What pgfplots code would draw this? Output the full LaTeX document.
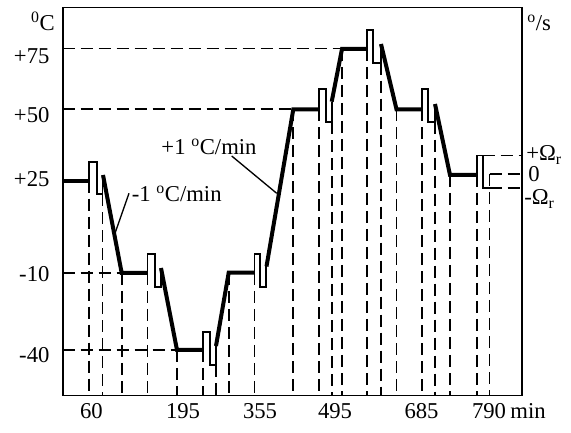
\documentclass[border=0pt]{standalone}
\usepackage{pgfplots}
\pgfplotsset{compat=1.18}
\usepackage{fontspec}
\setmainfont{Liberation Serif}
\begin{document}
\begin{tikzpicture}[font=\fontsize{17}{20}\selectfont]
\begin{axis}[
  x=0.75pt, y=0.75pt,
  xmin=62.7, xmax=522, ymin=-395.5, ymax=-7.5,
  axis line style={line width=1.3pt},
  clip=false,
  xtick={91.5,183,260,335,421.5,489},
  xticklabels={60,195,355,495,685,790},
  ytick={-64,-123,-187,-282,-362},
  yticklabels={+75,+50,+25,-10,-40},
  major tick length=0pt,
  tick style={draw=none},
  xticklabel style={anchor=base, inner sep=0pt, yshift=-16.9pt},
  yticklabel style={anchor=base east, inner sep=0pt, xshift=-9.75pt},
  dsh/.style={line width=1.35pt, dash pattern=on 9pt off 4.5pt},
  thk/.style={line width=3pt},
  thn/.style={line width=1.4pt},
]
% bounding box of the whole picture
\path (axis cs:0,0) rectangle (axis cs:571,-432);
% horizontal dashed reference lines from the left axis
\addplot[dsh] coordinates {(62.7,-48.5)(342,-48.5)};
\addplot[dsh] coordinates {(62.7,-109.3)(293.3,-109.3)};
\addplot[dsh] coordinates {(62.7,-272.7)(121.7,-272.7)};
\addplot[dsh] coordinates {(62.7,-350)(177,-350)};
% vertical dashed lines
\addplot[dsh] coordinates {(89.3,-180.7)(89.3,-395.5)};
\addplot[dsh] coordinates {(102.5,-194.3)(102.5,-395.5)};
\addplot[dsh] coordinates {(121.7,-273)(121.7,-395.5)};
\addplot[dsh] coordinates {(147.5,-273)(147.5,-395.5)};
\addplot[dsh] coordinates {(177,-350)(177,-395.5)};
\addplot[dsh] coordinates {(203.3,-350)(203.3,-395.5)};
\addplot[dsh] coordinates {(216,-365)(216,-395.5)};
\addplot[dsh] coordinates {(228.7,-273)(228.7,-395.5)};
\addplot[dsh] coordinates {(254.5,-273)(254.5,-395.5)};
\addplot[dsh] coordinates {(293.3,-109.3)(293.3,-395.5)};
\addplot[dsh] coordinates {(319,-109.3)(319,-395.5)};
\addplot[dsh] coordinates {(331.7,-122.3)(331.7,-395.5)};
\addplot[dsh] coordinates {(342,-49)(342,-395.5)};
\addplot[dsh] coordinates {(367,-49)(367,-395.5)};
\addplot[dsh] coordinates {(380.7,-62.7)(380.7,-395.5)};
\addplot[dsh] coordinates {(396.5,-109.3)(396.5,-395.5)};
\addplot[dsh] coordinates {(421.7,-109.3)(421.7,-395.5)};
\addplot[dsh] coordinates {(435,-121.7)(435,-395.5)};
\addplot[dsh] coordinates {(450,-175)(450,-395.5)};
\addplot[dsh] coordinates {(477,-175)(477,-395.5)};
\addplot[dsh] coordinates {(489.5,-174)(489.5,-395.5)};
% dashed lines to the right axis
\addplot[dsh] coordinates {(482.7,-155.5)(522,-155.5)};
\addplot[dsh] coordinates {(489.5,-174)(522,-174)};
\addplot[dsh] coordinates {(489.5,-188.3)(522,-188.3)};
% thick temperature profile
\addplot[thk] coordinates {(62.7,-180.7)(89.3,-180.7)};
\addplot[thk] coordinates {(103,-175)(121.7,-273)(147.5,-273)};
\addplot[thk] coordinates {(161,-268)(177,-350)(203.3,-350)};
\addplot[thk] coordinates {(216,-346)(228.7,-272.7)(254.5,-272.7)};
\addplot[thk] coordinates {(266.5,-266.5)(293.3,-109.3)(319,-109.3)};
\addplot[thk] coordinates {(331.7,-101.7)(342,-49)(367,-49)};
\addplot[thk] coordinates {(381,-44)(396.5,-109.3)(421.7,-109.3)};
\addplot[thk] coordinates {(435,-104)(450,-175)(477,-175)};
% thin rate pulses
\addplot[thn] coordinates {(89.3,-180.7)(89.3,-162.3)(96.7,-162.3)(96.7,-194.3)(102.5,-194.3)(102.5,-175)};
\addplot[thn] coordinates {(147.5,-272.7)(147.5,-254)(154.7,-254)(154.7,-286.7)(160.7,-286.7)(160.7,-268.3)};
\addplot[thn] coordinates {(203.3,-350)(203.3,-331.7)(210,-331.7)(210,-365)(216,-365)(216,-346)};
\addplot[thn] coordinates {(254.5,-272.7)(254.5,-254)(260,-254)(260,-286.7)(266,-286.7)(266,-266.5)};
\addplot[thn] coordinates {(319,-109.3)(319,-89)(325.7,-89)(325.7,-122.3)(331.7,-122.3)(331.7,-101.7)};
\addplot[thn] coordinates {(367,-49)(367,-30)(373.3,-30)(373.3,-62.7)(380.7,-62.7)(380.7,-44)};
\addplot[thn] coordinates {(421.7,-109.3)(421.7,-89)(428.3,-89)(428.3,-121.7)(435,-121.7)(435,-104)};
\addplot[thn] coordinates {(477,-175)(477,-155.5)(482.7,-155.5)(482.7,-188.3)(489.5,-188.3)};
% leader lines of the annotations
\addplot[line width=1pt] coordinates {(129,-193.3)(115,-233.3)};
\addplot[line width=1pt] coordinates {(231.7,-156)(276.7,-193.3)};
% texts
\node[anchor=base, inner sep=0pt] at (axis cs:209,-155) {+1 \textsuperscript{o}C/min};
\node[anchor=base, inner sep=0pt] at (axis cs:176.7,-201.7) {-1 \textsuperscript{o}C/min};
\node[anchor=base east, inner sep=0pt] at (axis cs:55,-31) {\textsuperscript{0}C};
\node[anchor=base west, inner sep=0pt] at (axis cs:527,-31) {\textsuperscript{o}/s};
\node[anchor=base west, inner sep=0pt] at (axis cs:526,-161) {+Ω\textsubscript{r}};
\node[anchor=base west, inner sep=0pt] at (axis cs:528,-182) {0};
\node[anchor=base west, inner sep=0pt] at (axis cs:524,-205) {-Ω\textsubscript{r}};
\node[anchor=base, inner sep=0pt] at (axis cs:528,-418) {min};
\end{axis}
\end{tikzpicture}
\end{document}
